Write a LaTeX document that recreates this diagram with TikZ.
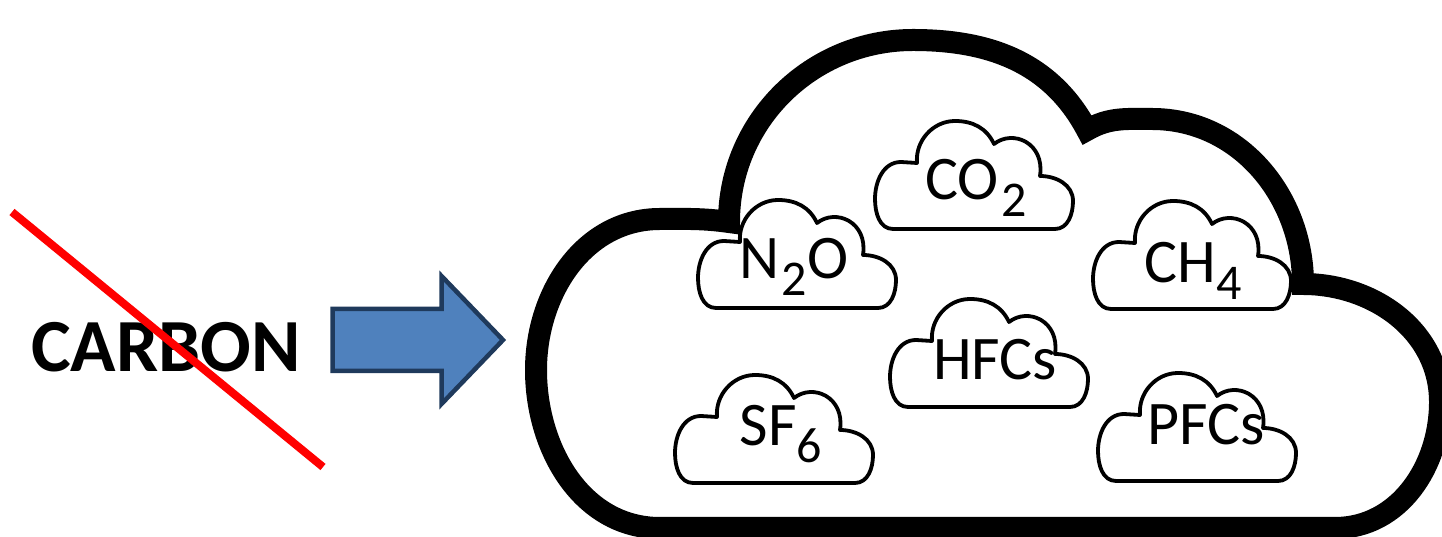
\documentclass[tikz,border=0pt]{standalone}
\usepackage{fontspec}
\setmainfont{Carlito}

\definecolor{arrowfill}{HTML}{4F81BD}
\definecolor{arrowline}{HTML}{1F3A5C}

% lowered chemical index with an optional kern before it
\newcommand\gsub[2][0pt]{\kern#1\raisebox{-17pt}{\fontsize{50}{50}\selectfont #2}}

\tikzset{
  bigcloud/.style={line width=22pt, draw=black, fill=white, line join=miter},
  smallcloud/.style={line width=3.8pt, draw=black, fill=white, line join=round},
  gas/.style={inner sep=0pt, anchor=base, font=\fontsize{62}{74}\selectfont},
  strike/.style={draw=red, line width=8pt},
  blockarrow/.style={fill=arrowfill, draw=arrowline, line width=4.5pt, line join=miter},
  minicloud/.pic={
    \path[smallcloud] (18,0) to[out=180,in=-90] (0,30) to[out=90,in=180] (26,67) -- (42,66)
      to[out=95,in=180] (80,108) to[out=0,in=115] (119,85)
      .. controls (138,100) and (170,86) .. (165,53)
      to[out=0,in=90] (198,28) to[out=-90,in=0] (180,0) -- cycle;
  }
}

\begin{document}
\begin{tikzpicture}[x=1pt,y=1pt]
\useasboundingbox (0,0) rectangle (1442,537);
\clip (0,0) rectangle (1442,537);

% large outer cloud
\path[bigcloud] (660,9) to[out=180,in=-90] (536,167) to[out=90,in=180] (660,318)
  to[out=0,in=172] (729,315)
  to[out=90,in=180] (913,497) to[out=0,in=118] (1087,407)
  to[out=30,in=180] (1152,418) to[out=0,in=90] (1303,253)
  to[out=0,in=90] (1440,135) to[out=-90,in=0] (1335,9) -- cycle;

% small gas clouds
\pic (co2cloud) at (875,308) {minicloud};
\pic (n2ocloud) at (698,229) {minicloud};
\pic (ch4cloud) at (1093,228) {minicloud};
\pic (hfccloud) at (890,130) {minicloud};
\pic (sf6cloud) at (675,54) {minicloud};
\pic (pfccloud) at (1098,56) {minicloud};

% gas labels
\node[gas] (co2) at (976,337) {CO\gsub[3pt]{2}};
\node[gas] (n2o) at (794,258) {N\gsub[2pt]{2}O};
\node[gas] (ch4) at (1193,254) {CH\gsub{4}};
\node[gas] (hfcs) at (995,157) {HFCs};
\node[gas] (sf6) at (781,91) {SF\gsub{6}};
\node[gas] (pfcs) at (1206,92) {PFCs};

% crossed-out word
\node[inner sep=0pt, anchor=base, font=\fontsize{75}{90}\selectfont\bfseries] (carbon) at (166,165) {CARBON};
\coordinate (strikeA) at (12,325);
\coordinate (strikeB) at (323,70);
\draw[strike] (strikeA) -- (strikeB);

% block arrow
\path[blockarrow] (332.5,166) -- (332.5,228) -- (441.5,228) -- (441.5,261)
  -- (503,197) -- (441.5,133) -- (441.5,166) -- cycle;
\end{tikzpicture}
\end{document}
